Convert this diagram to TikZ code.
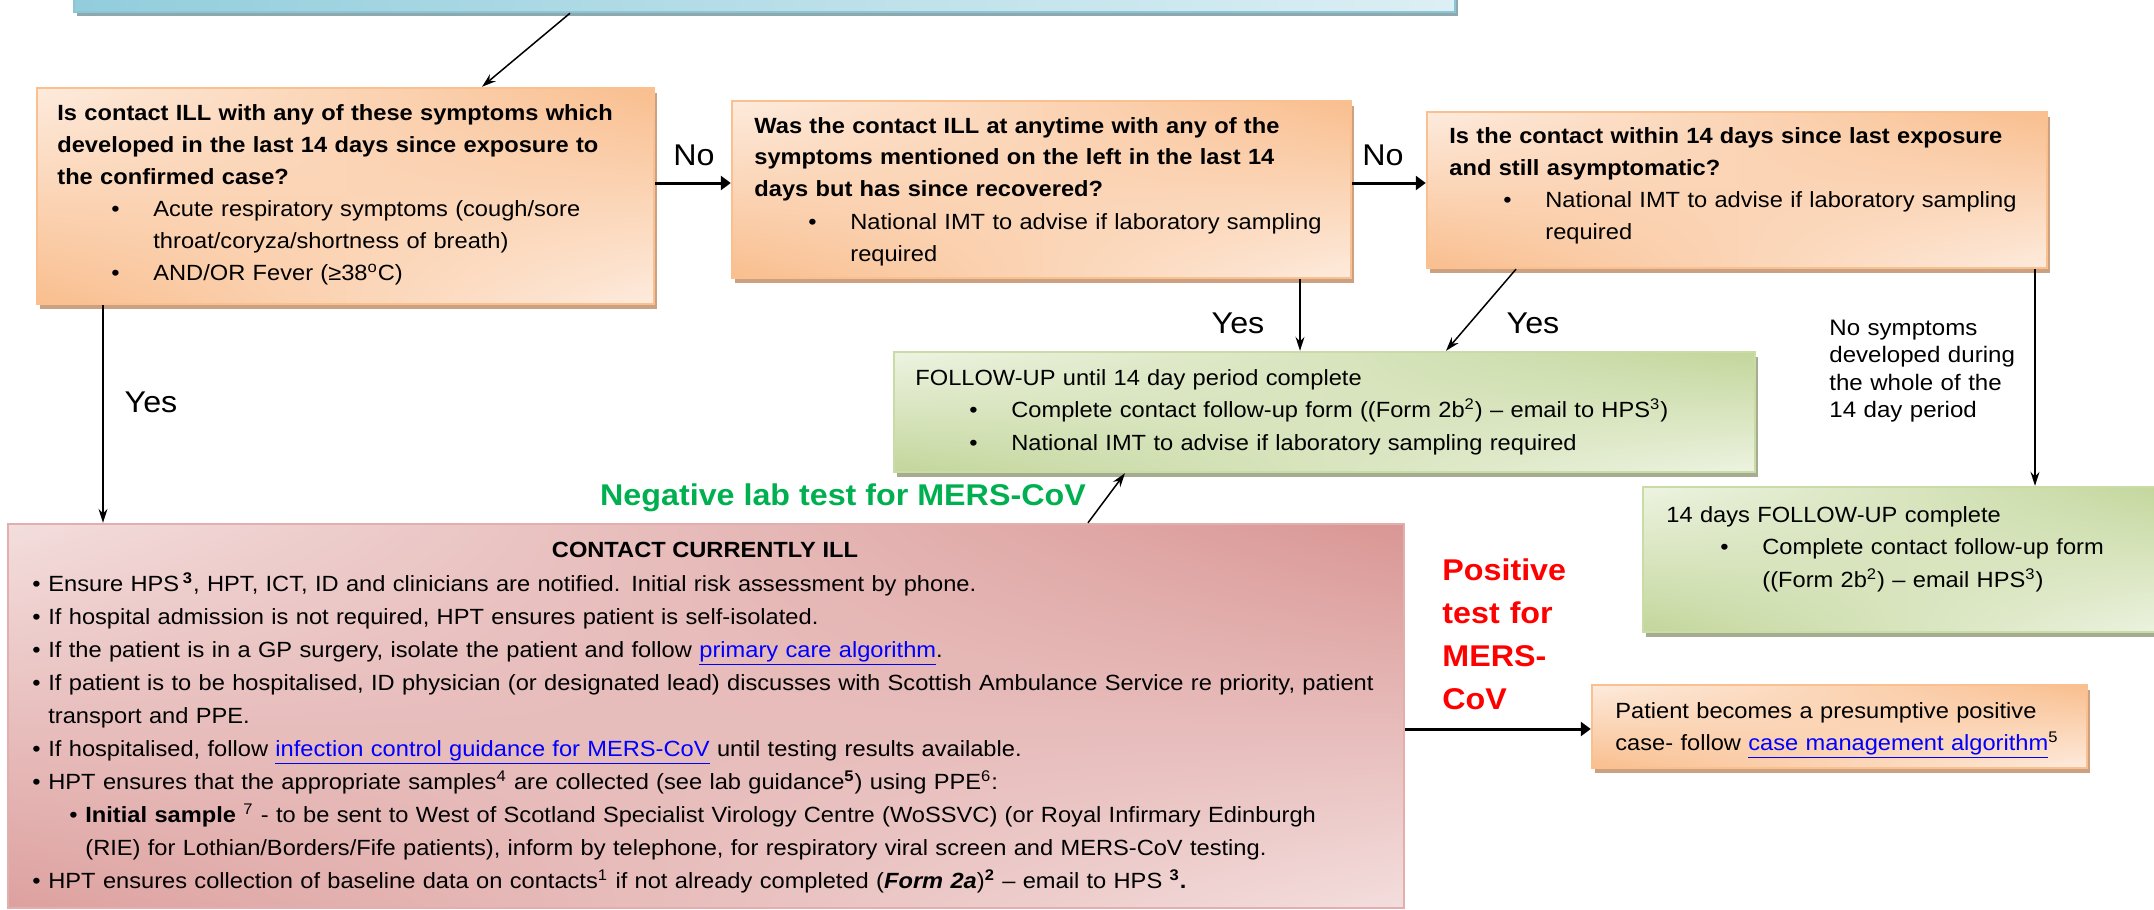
\documentclass[tikz,border=0pt]{standalone}
\usepackage{fontspec}
\setmainfont[FakeStretch=1.075]{Liberation Sans}
\usetikzlibrary{fit,shadows,shadings,arrows.meta,calc}

\definecolor{orD}{HTML}{F9BE8E}
\definecolor{orL}{HTML}{FDEBDD}
\definecolor{orB}{HTML}{FAC090}
\definecolor{orS}{HTML}{CBA182}
\definecolor{grD}{HTML}{C3D69B}
\definecolor{grL}{HTML}{EDF3E1}
\definecolor{grB}{HTML}{CADCA6}
\definecolor{grS}{HTML}{A5AC91}
\definecolor{rdD}{HTML}{D99694}
\definecolor{rdL}{HTML}{F3DEDD}
\definecolor{rdB}{HTML}{E3AFAE}
\definecolor{blD}{HTML}{92CDDC}
\definecolor{blL}{HTML}{DCEFF4}
\definecolor{blS}{HTML}{8DA8AE}
\definecolor{linkblue}{HTML}{0000FF}
\definecolor{neggreen}{HTML}{00B050}
\definecolor{posred}{HTML}{FF0000}

\newcommand\bitem{\hspace*{27pt}\makebox[21pt][l]{\textbullet}}
\newcommand\bcont{\hspace*{48pt}}
\newcommand\ritem{\makebox[8pt][l]{\textbullet}}
\newcommand\sups[1]{\textsuperscript{#1}}
\newcommand\lnk[1]{\textcolor{linkblue}{\underline{#1}}}

\tikzset{
  box/.style={inner sep=0pt, line width=1.2pt},
  obox/.style={box, draw=orB, upper left=orL, upper right=orD, lower left=orD, lower right=orL,
    drop shadow={fill=orS, opacity=1, shadow xshift=1.5pt, shadow yshift=-2.5pt}},
  gbox/.style={box, draw=grB, upper left=grL, upper right=grD, lower left=grD, lower right=grL,
    drop shadow={fill=grS, opacity=1, shadow xshift=1.5pt, shadow yshift=-2.5pt}},
  rbox/.style={box, draw=rdB, upper left=rdL, upper right=rdD, lower left=rdD!85!rdL, lower right=rdL},
  bbox/.style={box, draw=blD!80!black!20!blD, left color=blD, right color=blL,
    drop shadow={fill=blS, opacity=1, shadow xshift=1.5pt, shadow yshift=-2pt}},
  txt/.style={inner sep=0pt, anchor=base west, align=left, text width=#1,
    font=\fontsize{11}{16}\selectfont},
  lbl/.style={inner sep=0pt, font=\fontsize{15}{18}\selectfont},
  arr/.style={-{Stealth[length=7pt,width=4.5pt]}, line width=0.75pt},
  tarr/.style={-{Triangle[length=5pt,width=7pt]}, line width=1.5pt},
}

\begin{document}
\begin{tikzpicture}[x=0.5pt,y=-0.5pt]
\useasboundingbox (0,0) rectangle (2154,910);

% boxes
\node[bbox, fit={(74,-40) (1455,12)}] (blue) {};
\node[obox, fit={(37,88) (654,304)}] (b1) {};
\node[obox, fit={(732,101) (1351,278)}] (b2) {};
\node[obox, fit={(1427,112) (2047,268)}] (b3) {};
\node[gbox, fit={(894,352) (1755,472)}] (g1) {};
\node[gbox, fit={(1643,487) (2170,632)}] (g2) {};
\node[obox, fit={(1592,685) (2087,768)}] (o4) {};
\node[rbox, fit={(8,524) (1404,908)}] (r) {};

% texts
\node[txt=320pt] (t1) at (57,120) {\textbf{Is contact ILL with any of these symptoms which}\\
\textbf{developed in the last 14 days since exposure to}\\
\textbf{the confirmed case?}\\
\bitem Acute respiratory symptoms (cough/sore\\
\bcont throat/coryza/shortness of breath)\\
\bitem AND/OR Fever (≥38\sups{o}C)};

\node[txt=320pt] (t2) at (754,133) {\textbf{Was the contact ILL at anytime with any of the}\\
\textbf{symptoms mentioned on the left in the last 14}\\
\textbf{days but has since recovered?}\\
\bitem National IMT to advise if laboratory sampling\\
\bcont required};

\node[txt=320pt] (t3) at (1449,143) {\textbf{Is the contact within 14 days since last exposure}\\
\textbf{and still asymptomatic?}\\
\bitem National IMT to advise if laboratory sampling\\
\bcont required};

\node[txt=440pt, font=\fontsize{11}{16.3}\selectfont] (t4) at (915,385) {FOLLOW-UP until 14 day period complete\\
\bitem Complete contact follow-up form ((Form 2b\sups{2}) -- email to HPS\sups{3})\\
\bitem National IMT to advise if laboratory sampling required};

\node[txt=260pt, font=\fontsize{11}{16.3}\selectfont] (t5) at (1666,522) {14 days FOLLOW-UP complete\\
\bitem Complete contact follow-up form\\
\bcont ((Form 2b\sups{2}) -- email HPS\sups{3})};

\node[txt=250pt] (t6) at (1615,718) {Patient becomes a presumptive positive\\
case- follow \lnk{case management algorithm}\sups{5}};

\node[txt=110pt, font=\fontsize{11.2}{13.8}\selectfont] (t7) at (1829,335) {No symptoms\\
developed during\\
the whole of the\\
14 day period};

\node[inner sep=0pt, anchor=base, font=\fontsize{11}{16}\selectfont\bfseries] (rt) at (705,557) {CONTACT CURRENTLY ILL};

\node[txt=760pt, font=\fontsize{11}{16.5}\selectfont] (t8) at (32,591) {\ritem Ensure HPS\,\textbf{\sups{3}}, HPT, ICT, ID and clinicians are notified. Initial risk assessment by phone.\\
\ritem If hospital admission is not required, HPT ensures patient is self-isolated.\\
\ritem If the patient is in a GP surgery, isolate the patient and follow \lnk{primary care algorithm}.\\
\ritem If patient is to be hospitalised, ID physician (or designated lead) discusses with Scottish Ambulance Service re priority, patient\\
\hspace*{8pt}transport and PPE.\\
\ritem If hospitalised, follow \lnk{infection control guidance for MERS-CoV} until testing results available.\\
\ritem HPT ensures that the appropriate samples\sups{4} are collected (see lab guidance\textbf{\sups{5}}) using PPE\sups{6}:\\
\hspace*{18.5pt}\ritem\textbf{Initial sample} \sups{7} - to be sent to West of Scotland Specialist Virology Centre (WoSSVC) (or Royal Infirmary Edinburgh\\
\hspace*{26.5pt}(RIE) for Lothian/Borders/Fife patients), inform by telephone, for respiratory viral screen and MERS-CoV testing.\\
\ritem HPT ensures collection of baseline data on contacts\sups{1} if not already completed (\textbf{\textit{Form 2a}})\textbf{\sups{2}} -- email to HPS \textbf{\sups{3}.}};

% labels
\node[lbl] (no1) at (694,155) {No};
\node[lbl] (no2) at (1383,155) {No};
\node[lbl] (yes1) at (151,402) {Yes};
\node[lbl] (yes2) at (1238,323) {Yes};
\node[lbl] (yes3) at (1533,323) {Yes};
\node[inner sep=0pt, anchor=base, text=neggreen, font=\fontsize{15}{18}\selectfont\bfseries] (neg) at (843,505) {Negative lab test for MERS-CoV};
\node[txt=70pt, text=posred, font=\fontsize{15}{21.5}\selectfont\bfseries] (pos) at (1442,580) {Positive\\test for\\MERS-\\CoV};

% connectors
\draw[arr] ([xshift=-97.25pt]blue.south) -- ([xshift=68.25pt]b1.north);
\draw[tarr] (b1.east |- 0,183) -- (b2.west |- 0,183);
\draw[tarr] (b2.east |- 0,183) -- (b3.west |- 0,183);
\draw[arr] (b2.south -| 1300,0) -- (g1.north -| 1300,0);
\draw[arr] (b3.south -| 1516,0) -- (g1.north -| 1446,0);
\draw[arr] (b3.south -| 2035,0) -- (g2.north -| 2035,0);
\draw[arr] (b1.south -| 103,0) -- (r.north -| 103,0);
\draw[arr] (r.north -| 1088,0) -- (g1.south -| 1125,0);
\draw[tarr] (r.east |- 0,729) -- (o4.west |- 0,729);
\end{tikzpicture}
\end{document}
